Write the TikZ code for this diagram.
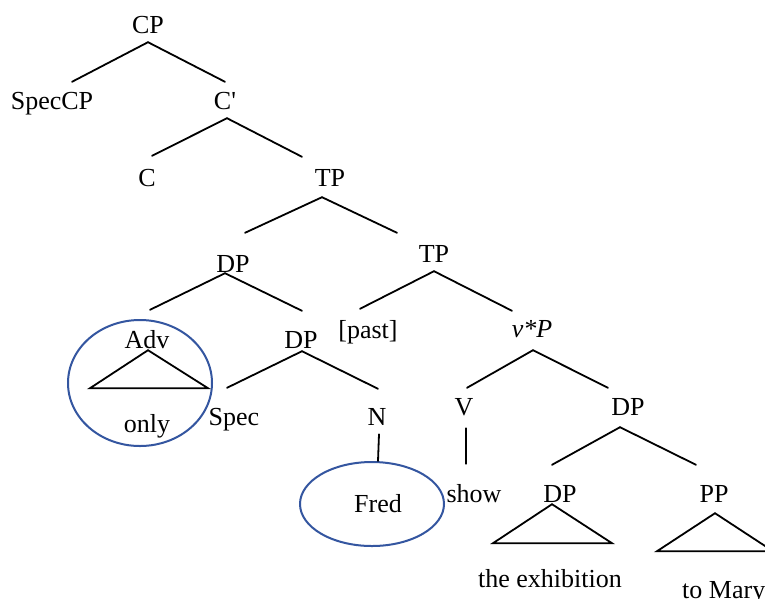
\documentclass[tikz,border=0pt]{standalone}
\usepackage{fontspec}
\setmainfont{Liberation Serif}
\usetikzlibrary{shapes.geometric}
\definecolor{ringblue}{RGB}{52,86,160}
\begin{document}
\begin{tikzpicture}[x=1pt,y=-1pt,
  lbl/.style={font=\fontsize{26}{30}\selectfont, text height=18pt, text depth=0pt,
              inner xsep=2pt, inner ysep=9pt, anchor=base},
  branch/.style={line width=1.8pt, line cap=round},
  ring/.style={draw=ringblue, line width=2pt, ellipse, inner sep=0pt}]
  \fill[white] (0,0) rectangle (765,598);
  \useasboundingbox (0,0) rectangle (765,598);

  % category labels and words
  \node[lbl] (CP)     at (148,33)  {CP};
  \node[lbl] (SpecCP) at (52,109)  {SpecCP};
  \node[lbl] (Cbar)   at (225,109) {C\textquotesingle};
  \node[lbl] (C)      at (147,186) {C};
  \node[lbl] (TPa)    at (330,186) {TP};
  \node[lbl] (DPa)    at (233,272) {DP};
  \node[lbl] (TPb)    at (434,262) {TP};
  \node[lbl] (Adv)    at (147,348) {Adv};
  \node[lbl] (DPb)    at (301,348) {DP};
  \node[lbl] (past)   at (368,338) {[past]};
  \node[lbl] (vP)     at (532,337) {\itshape v*P};
  \node[lbl] (only)   at (147,432) {only};
  \node[lbl] (Spec)   at (234,425) {Spec};
  \node[lbl] (N)      at (377,425) {N};
  \node[lbl] (V)      at (464,415) {V};
  \node[lbl] (DPc)    at (628,415) {DP};
  \node[lbl] (show)   at (474,502) {show};
  \node[lbl] (Fred)   at (378,512) {Fred};
  \node[lbl] (DPd)    at (560,502) {DP};
  \node[lbl] (PP)     at (714,502) {PP};
  \node[lbl] (exhib)  at (550,587) {the exhibition};
  \node[lbl,anchor=base west] (mary) at (680,598) {to Mary};

  % circled constituents
  \node[ring, minimum width=144pt, minimum height=126pt] (advring)  at (140,383) {};
  \node[ring, minimum width=144pt, minimum height=84pt]  (fredring) at (372,504) {};

  % branches
  \draw[branch] (CP.south) -- ([xshift=20pt]SpecCP.north);
  \draw[branch] (CP.south) -- (Cbar.north);
  \draw[branch] ([xshift=2pt]Cbar.south) -- ([xshift=5pt,yshift=3pt]C.north);
  \draw[branch] ([xshift=2pt]Cbar.south) -- ([xshift=-28pt,yshift=2pt]TPa.north);
  \draw[branch] ([xshift=-8pt,yshift=-2pt]TPa.south) -- ([xshift=12pt,yshift=12pt]DPa.north);
  \draw[branch] ([xshift=-8pt,yshift=-2pt]TPa.south) -- ([xshift=-37pt,yshift=2pt]TPb.north);
  \draw[branch] ([xshift=-8pt,yshift=8pt]DPa.south) -- ([xshift=3pt,yshift=11pt]Adv.north);
  \draw[branch] ([xshift=-8pt,yshift=8pt]DPa.south) -- ([xshift=1pt,yshift=10pt]DPb.north);
  \draw[branch] (TPb.south) -- ([xshift=-8pt,yshift=2pt]past.north);
  \draw[branch] (TPb.south) -- ([xshift=-20pt,yshift=-1pt]vP.north);
  \draw[branch] ([xshift=1pt,yshift=6pt]DPb.south) -- ([xshift=-7pt,yshift=10pt]Spec.north);
  \draw[branch] ([xshift=1pt,yshift=6pt]DPb.south) -- ([xshift=1pt,yshift=9pt]N.north);
  \draw[branch] ([xshift=2pt]N.south) -- ([xshift=1pt]N.south |- fredring.north);
  \draw[branch] ([xshift=1pt,yshift=-4pt]vP.south) -- ([xshift=3pt]V.north);
  \draw[branch] ([xshift=1pt,yshift=-4pt]vP.south) -- ([xshift=-20pt]DPc.north);
  \draw[branch] ([xshift=2pt,yshift=-4pt]V.south) -- ([xshift=-8pt,yshift=11pt]show.north);
  \draw[branch] ([xshift=-8pt,yshift=-3pt]DPc.south) -- ([xshift=-8pt,yshift=10pt]DPd.north);
  \draw[branch] ([xshift=-8pt,yshift=-3pt]DPc.south) -- ([xshift=-18pt,yshift=10pt]PP.north);

  % triangles for unanalysed constituents
  \draw[branch, line join=miter] ([xshift=1pt,yshift=7pt]Adv.south) -- ++(-58,38) -- ++(118,0) -- cycle;
  \draw[branch, line join=miter] ([xshift=-8pt,yshift=7pt]DPd.south) -- ++(-59,39) -- ++(119,0) -- cycle;
  \draw[branch, line join=miter] ([xshift=1pt,yshift=-2pt]PP.south) -- ++(-58,38) -- ++(116,0) -- cycle;
\end{tikzpicture}
\end{document}
